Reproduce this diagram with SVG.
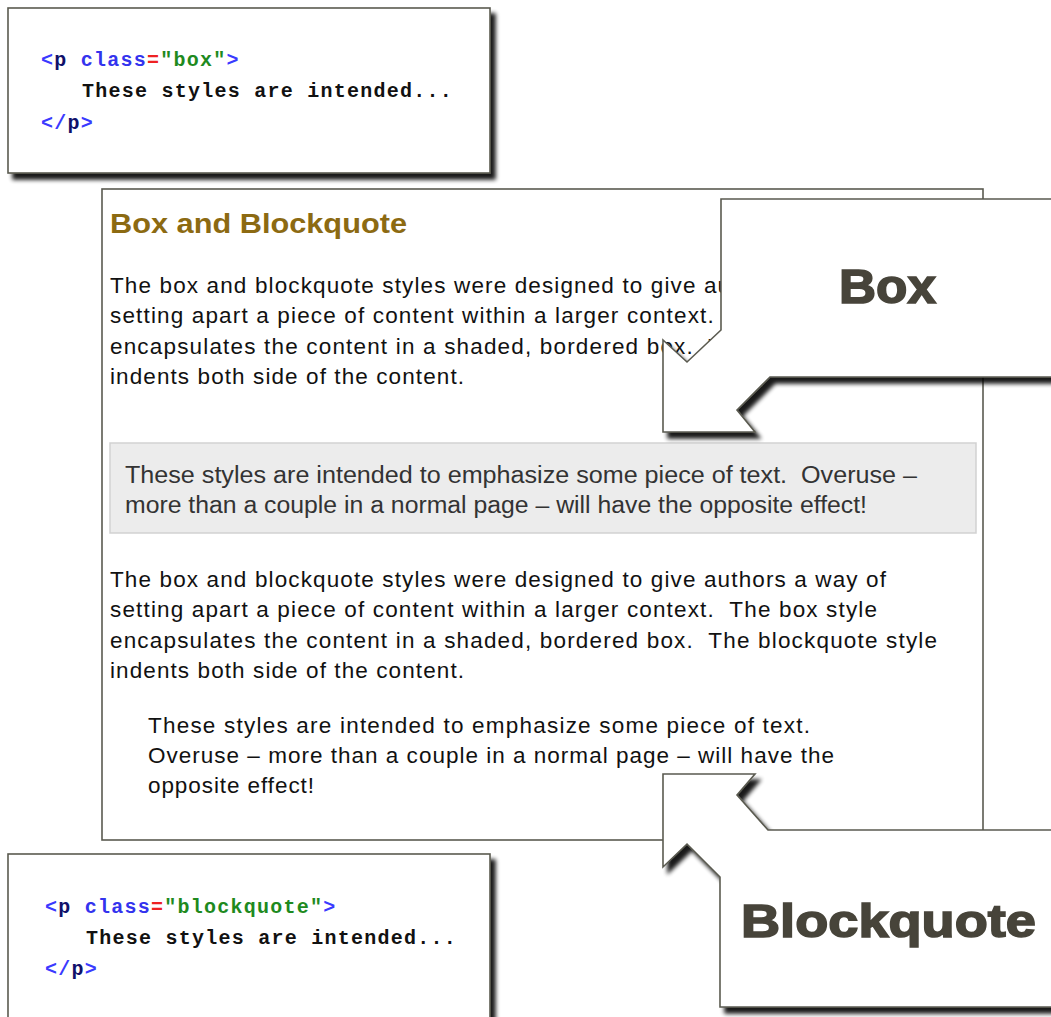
<svg xmlns="http://www.w3.org/2000/svg" width="1051" height="1017" viewBox="0 0 1051 1017">
<defs>
<filter id="shadow" x="-10%" y="-10%" width="130%" height="130%">
<feGaussianBlur in="SourceAlpha" stdDeviation="2.2"/>
<feOffset dx="5" dy="6" result="b"/>
<feComponentTransfer><feFuncA type="linear" slope="0.9"/></feComponentTransfer>
<feMerge><feMergeNode/><feMergeNode in="SourceGraphic"/></feMerge>
</filter>
</defs>
<style>
text{white-space:pre}
.frame{fill:#fff;stroke:#5a5a50;stroke-width:1.6}
.code{font-family:"Liberation Mono","Courier New",monospace;font-size:20px;letter-spacing:1.25px;font-weight:bold}
.tag{fill:#3a3aff}
.pn{fill:#10106a}
.at{fill:#3333ee}
.eq{fill:#ee2222}
.str{fill:#1e8a1e}
.txt{fill:#111}
.body{font-family:"Liberation Sans",Arial,sans-serif;font-size:22.5px;fill:#111}
.gray{font-family:"Liberation Sans",Arial,sans-serif;font-size:23px;fill:#333}
.title{font-family:"Liberation Sans",Arial,sans-serif;font-size:28px;font-weight:bold;fill:#8c6a12}
.call{font-family:"Liberation Sans",Arial,sans-serif;font-weight:bold;fill:#47443a;stroke:#47443a;stroke-width:1.6}
</style>
<rect width="1051" height="1017" fill="#fff"/>

<g id="content">
<rect class="frame" x="102" y="189" width="881" height="651"/>
<text class="title" x="110" y="233" textLength="297" lengthAdjust="spacingAndGlyphs">Box and Blockquote</text>
<text class="body" x="110" y="293" textLength="776">The box and blockquote styles were designed to give authors a way of</text>
<text class="body" x="110" y="323" textLength="767">setting apart a piece of content within a larger context.  The box style</text>
<text class="body" x="110" y="354" textLength="827">encapsulates the content in a shaded, bordered box.  The blockquote style</text>
<text class="body" x="110" y="384" textLength="354">indents both side of the content.</text>
<rect x="110" y="443" width="866" height="90" fill="#ececec" stroke="#d2d2d2" stroke-width="1.5"/>
<text class="gray" x="125" y="483" textLength="792" lengthAdjust="spacingAndGlyphs">These styles are intended to emphasize some piece of text.  Overuse –</text>
<text class="gray" x="125" y="513" textLength="742" lengthAdjust="spacingAndGlyphs">more than a couple in a normal page – will have the opposite effect!</text>
<text class="body" x="110" y="587" textLength="776">The box and blockquote styles were designed to give authors a way of</text>
<text class="body" x="110" y="617" textLength="767">setting apart a piece of content within a larger context.  The box style</text>
<text class="body" x="110" y="648" textLength="827">encapsulates the content in a shaded, bordered box.  The blockquote style</text>
<text class="body" x="110" y="678" textLength="354">indents both side of the content.</text>
<text class="body" x="148" y="733" textLength="662">These styles are intended to emphasize some piece of text.</text>
<text class="body" x="148" y="763" textLength="686">Overuse – more than a couple in a normal page – will have the</text>
<text class="body" x="148" y="793" textLength="166">opposite effect!</text>
</g>

<g id="code-box" filter="url(#shadow)">
<rect class="frame" x="8" y="8" width="482" height="165"/>
</g>
<g id="code-box-text" class="code">
<text x="41" y="66"><tspan class="tag">&lt;</tspan><tspan class="pn">p</tspan> <tspan class="at">class</tspan><tspan class="eq">=</tspan><tspan class="str">"box"</tspan><tspan class="tag">&gt;</tspan></text>
<text class="txt" x="82" y="97">These styles are intended...</text>
<text x="41" y="129"><tspan class="tag">&lt;/</tspan><tspan class="pn">p</tspan><tspan class="tag">&gt;</tspan></text>
</g>

<g id="code-blockquote" filter="url(#shadow)">
<rect class="frame" x="8" y="854" width="482" height="190"/>
</g>
<g id="code-blockquote-text" class="code">
<text x="45" y="913"><tspan class="tag">&lt;</tspan><tspan class="pn">p</tspan> <tspan class="at">class</tspan><tspan class="eq">=</tspan><tspan class="str">"blockquote"</tspan><tspan class="tag">&gt;</tspan></text>
<text class="txt" x="86" y="944">These styles are intended...</text>
<text x="45" y="975"><tspan class="tag">&lt;/</tspan><tspan class="pn">p</tspan><tspan class="tag">&gt;</tspan></text>
</g>

<g id="callout-box">
<path class="frame" filter="url(#shadow)" d="M721,199 L1065,199 L1065,377 L770,377 L737,410 L755,432 L663,432 L663,340 L687,362 L721,330 Z"/>
<text class="call" x="839" y="303" font-size="48" textLength="97" lengthAdjust="spacingAndGlyphs">Box</text>
</g>

<g id="callout-blockquote">
<path class="frame" filter="url(#shadow)" d="M663,774 L755,774 L737,795 L768,830 L1065,830 L1065,1007 L720,1007 L720,877 L687,844 L663,867 Z"/>
<text class="call" x="741" y="937" font-size="47" textLength="295" lengthAdjust="spacingAndGlyphs">Blockquote</text>
</g>

<g id="connectors"/>
</svg>
